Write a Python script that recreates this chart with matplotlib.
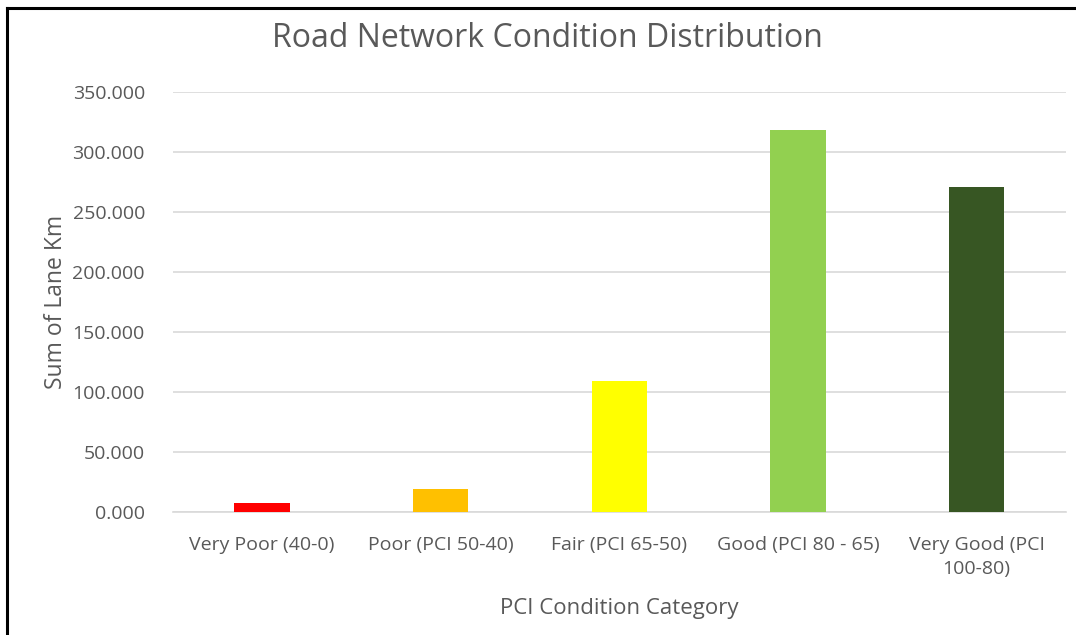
#!/usr/bin/env python3
"""Bar chart of lane-km per PCI condition category."""

import matplotlib

matplotlib.use("Agg")

import matplotlib.pyplot as plt
from matplotlib.lines import Line2D

categories = [
    "Very Poor (40-0)",
    "Poor (PCI 50-40)",
    "Fair (PCI 65-50)",
    "Good (PCI 80 - 65)",
    "Very Good (PCI\n100-80)",
]
lane_km = [8.0, 19.8, 109.8, 318.7, 271.3]
bar_colors = ["#FF0000", "#FFC000", "#FFFF00", "#92D050", "#375623"]
y_ticks = [0, 50, 100, 150, 200, 250, 300, 350]

TEXT = "#595959"
GRID = "#D9D9D9"

plt.rcParams["font.family"] = ["Open Sans", "DejaVu Sans"]

fig = plt.figure(figsize=(10.76, 6.35), dpi=100)
ax = fig.add_axes([0.1605, 0.1932, 0.8302, 0.6614])

positions = list(range(len(categories)))
ax.bar(positions, lane_km, width=0.31, color=bar_colors, zorder=3)

ax.set_xlim(-0.5, len(categories) - 0.5)
ax.set_ylim(0, 350)
ax.set_yticks(y_ticks)
ax.set_yticklabels([f"{v:.3f}" for v in y_ticks])
ax.set_xticks(positions)
ax.set_xticklabels(categories, linespacing=1.45)

ax.grid(axis="y", color=GRID, linewidth=1.2, zorder=0)
ax.tick_params(axis="both", length=0, labelsize=14, colors=TEXT)
ax.tick_params(axis="y", pad=20)
ax.tick_params(axis="x", pad=17)
for side in ("top", "right", "left"):
    ax.spines[side].set_visible(False)
ax.spines["bottom"].set_color(GRID)
ax.spines["bottom"].set_linewidth(1.2)

fig.text(0.509, 0.94, "Road Network Condition Distribution", fontsize=23,
         color=TEXT, ha="center", va="center")
ax.set_xlabel("PCI Condition Category", fontsize=16, color=TEXT, labelpad=14)
ax.set_ylabel("Sum of Lane Km", fontsize=16.5, color=TEXT, labelpad=3)

# dark frame on left and top edges, as in the source screenshot
fig.add_artist(Line2D([0.0062, 0.0062], [0.0, 0.988], color="black", linewidth=2.2,
                      transform=fig.transFigure))
fig.add_artist(Line2D([0.0062, 1.0], [0.988, 0.988], color="black", linewidth=2.2,
                      transform=fig.transFigure))

fig.savefig("out.png", dpi=100)
plt.close(fig)
